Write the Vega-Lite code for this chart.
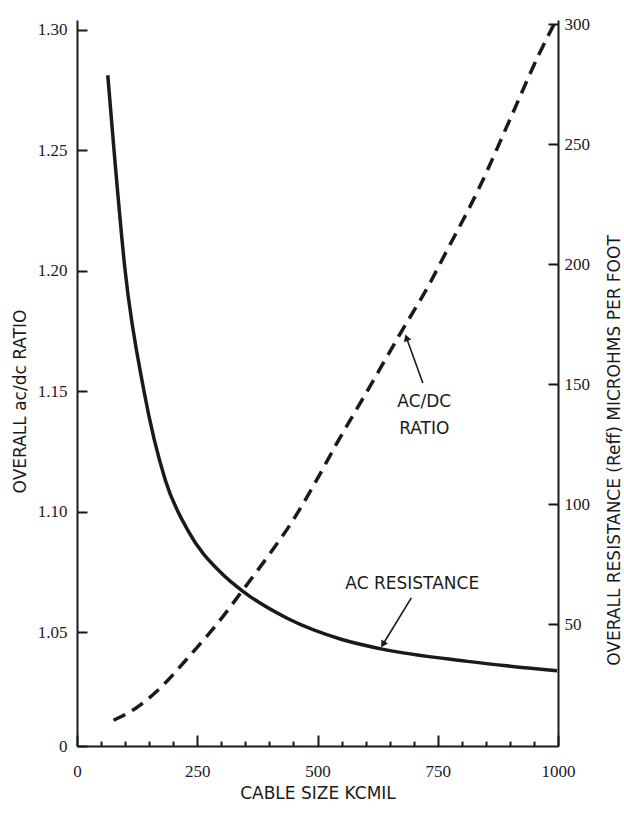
{
  "$schema": "https://vega.github.io/schema/vega-lite/v6.json",
  "width": 481,
  "height": 726,
  "autosize": {"type": "none"},
  "padding": {"left": 77, "top": 20, "right": 66, "bottom": 75},
  "background": "white",
  "config": {
    "view": {"stroke": null},
    "axis": {
      "domainColor": "#1a1a1a", "domainWidth": 2,
      "tickColor": "#1a1a1a", "tickWidth": 2,
      "labelColor": "#1a1a1a", "titleColor": "#1a1a1a",
      "labelFont": "Liberation Sans Narrow",
      "labelFontSize": 17,
      "titleFont": "DejaVu Sans", "titleFontWeight": "normal", "titleFontSize": 16,
      "grid": false, "labelOverlap": false, "labelFlush": false, "labelBound": false
    }
  },
  "datasets": {
    "solid": [
      {"kcmil": 64, "ratio": 1.2812}, {"kcmil": 77, "ratio": 1.25}, {"kcmil": 100, "ratio": 1.2002},
      {"kcmil": 139, "ratio": 1.1503}, {"kcmil": 184, "ratio": 1.1128}, {"kcmil": 231, "ratio": 1.092},
      {"kcmil": 300, "ratio": 1.0745}, {"kcmil": 345, "ratio": 1.0669}, {"kcmil": 438, "ratio": 1.0556},
      {"kcmil": 549, "ratio": 1.047}, {"kcmil": 632, "ratio": 1.043}, {"kcmil": 812, "ratio": 1.0378},
      {"kcmil": 998, "ratio": 1.0339}
    ],
    "dashed": [
      {"kcmil": 76, "res": 9.9}, {"kcmil": 125, "res": 15.3}, {"kcmil": 167, "res": 22.2},
      {"kcmil": 237, "res": 37.4}, {"kcmil": 293, "res": 50.5}, {"kcmil": 348, "res": 65.0},
      {"kcmil": 398, "res": 78.5}, {"kcmil": 447, "res": 92.6}, {"kcmil": 496, "res": 109.2},
      {"kcmil": 538, "res": 124.5}, {"kcmil": 609, "res": 149.0}, {"kcmil": 672, "res": 171.0},
      {"kcmil": 735, "res": 192.5}, {"kcmil": 763, "res": 203.3}, {"kcmil": 834, "res": 230.8},
      {"kcmil": 904, "res": 262.0}, {"kcmil": 961, "res": 287.6}, {"kcmil": 992, "res": 300.0}
    ],
    "labels": [
      {"kcmil": 722, "ratio": 1.1455, "text": "AC/DC"},
      {"kcmil": 722, "ratio": 1.1345, "text": "RATIO"},
      {"kcmil": 697, "ratio": 1.0699, "text": "AC RESISTANCE"}
    ],
    "arrows": [
      {"id": "a", "kcmil": 719, "ratio": 1.1534, "kcmil2": 684, "ratio2": 1.1727},
      {"id": "b", "kcmil": 695, "ratio": 1.0642, "kcmil2": 634, "ratio2": 1.0442}
    ],
    "heads": [
      {"id": "a", "kcmil": 685, "ratio": 1.1722},
      {"id": "b", "kcmil": 636, "ratio": 1.0449}
    ]
  },
  "encoding": {
    "x": {
      "field": "kcmil", "type": "quantitative",
      "scale": {"domain": [0, 1000], "nice": false, "zero": false},
      "axis": {
        "orient": "bottom",
        "values": [0, 50, 100, 150, 200, 250, 300, 350, 400, 450, 500, 550, 600, 650, 700, 750, 800, 850, 900, 950, 1000],
        "tickSize": {"condition": {"test": "datum.value % 250 === 0", "value": -11}, "value": -5},
        "labelExpr": "datum.value % 250 === 0 ? format(datum.value, 'd') : ''",
        "labelPadding": 28,
        "title": "CABLE SIZE KCMIL",
        "titleFontSize": 17,
        "titleY": 47,
        "titleBaseline": "middle",
        "titleAnchor": "middle"
      }
    }
  },
  "layer": [
    {
      "encoding": {
        "y": {
          "field": "ratio", "type": "quantitative",
          "scale": {"domain": [1.00266, 1.30415], "nice": false, "zero": false},
          "axis": {
            "orient": "left",
            "values": [1.00266, 1.05, 1.1, 1.15, 1.2, 1.25, 1.3],
            "labelExpr": "datum.value < 1.01 ? '0' : format(datum.value, '.2f')",
            "tickSize": -10,
            "labelPadding": 20,
            "title": "OVERALL ac/dc RATIO",
            "titleFontSize": 17,
            "titleAngle": 270,
            "titleX": -57,
            "titleY": 381,
            "titleAlign": "center",
            "titleBaseline": "middle"
          }
        }
      },
      "layer": [
        {
          "data": {"name": "solid"},
          "mark": {"type": "line", "color": "#1a1a1a", "strokeWidth": 3.5, "interpolate": "monotone"}
        },
        {
          "data": {"name": "arrows"},
          "mark": {"type": "rule", "color": "#1a1a1a", "strokeWidth": 1.6},
          "encoding": {
            "x2": {"field": "kcmil2"},
            "y2": {"field": "ratio2"}
          }
        },
        {
          "data": {"name": "heads"},
          "transform": [{"filter": "datum.id === 'a'"}],
          "mark": {"type": "point", "shape": "triangle-up", "filled": true, "color": "#1a1a1a", "size": 60, "angle": 340, "opacity": 1}
        },
        {
          "data": {"name": "heads"},
          "transform": [{"filter": "datum.id === 'b'"}],
          "mark": {"type": "point", "shape": "triangle-up", "filled": true, "color": "#1a1a1a", "size": 60, "angle": 212, "opacity": 1}
        },
        {
          "data": {"name": "labels"},
          "mark": {"type": "text", "font": "DejaVu Sans", "fontSize": 17, "color": "#1a1a1a", "align": "center", "baseline": "middle"},
          "encoding": {
            "text": {"field": "text"}
          }
        }
      ]
    },
    {
      "data": {"name": "dashed"},
      "mark": {"type": "line", "color": "#1a1a1a", "strokeWidth": 3.5, "strokeDash": [13, 8], "strokeCap": "butt", "interpolate": "monotone"},
      "encoding": {
        "y": {
          "field": "res", "type": "quantitative",
          "scale": {"domain": [-0.83, 301.67], "nice": false, "zero": false},
          "axis": {
            "orient": "right",
            "values": [50, 100, 150, 200, 250, 300],
            "tickSize": -10,
            "labelPadding": 16,
            "labelAlign": "left",
            "title": "OVERALL RESISTANCE (Reff) MICROHMS PER FOOT",
            "titleFontSize": 17,
            "titleAngle": 270,
            "titleX": 56,
            "titleY": 430,
            "titleAlign": "center",
            "titleBaseline": "middle"
          }
        }
      }
    }
  ],
  "resolve": {"scale": {"y": "independent"}, "axis": {"y": "independent"}}
}
